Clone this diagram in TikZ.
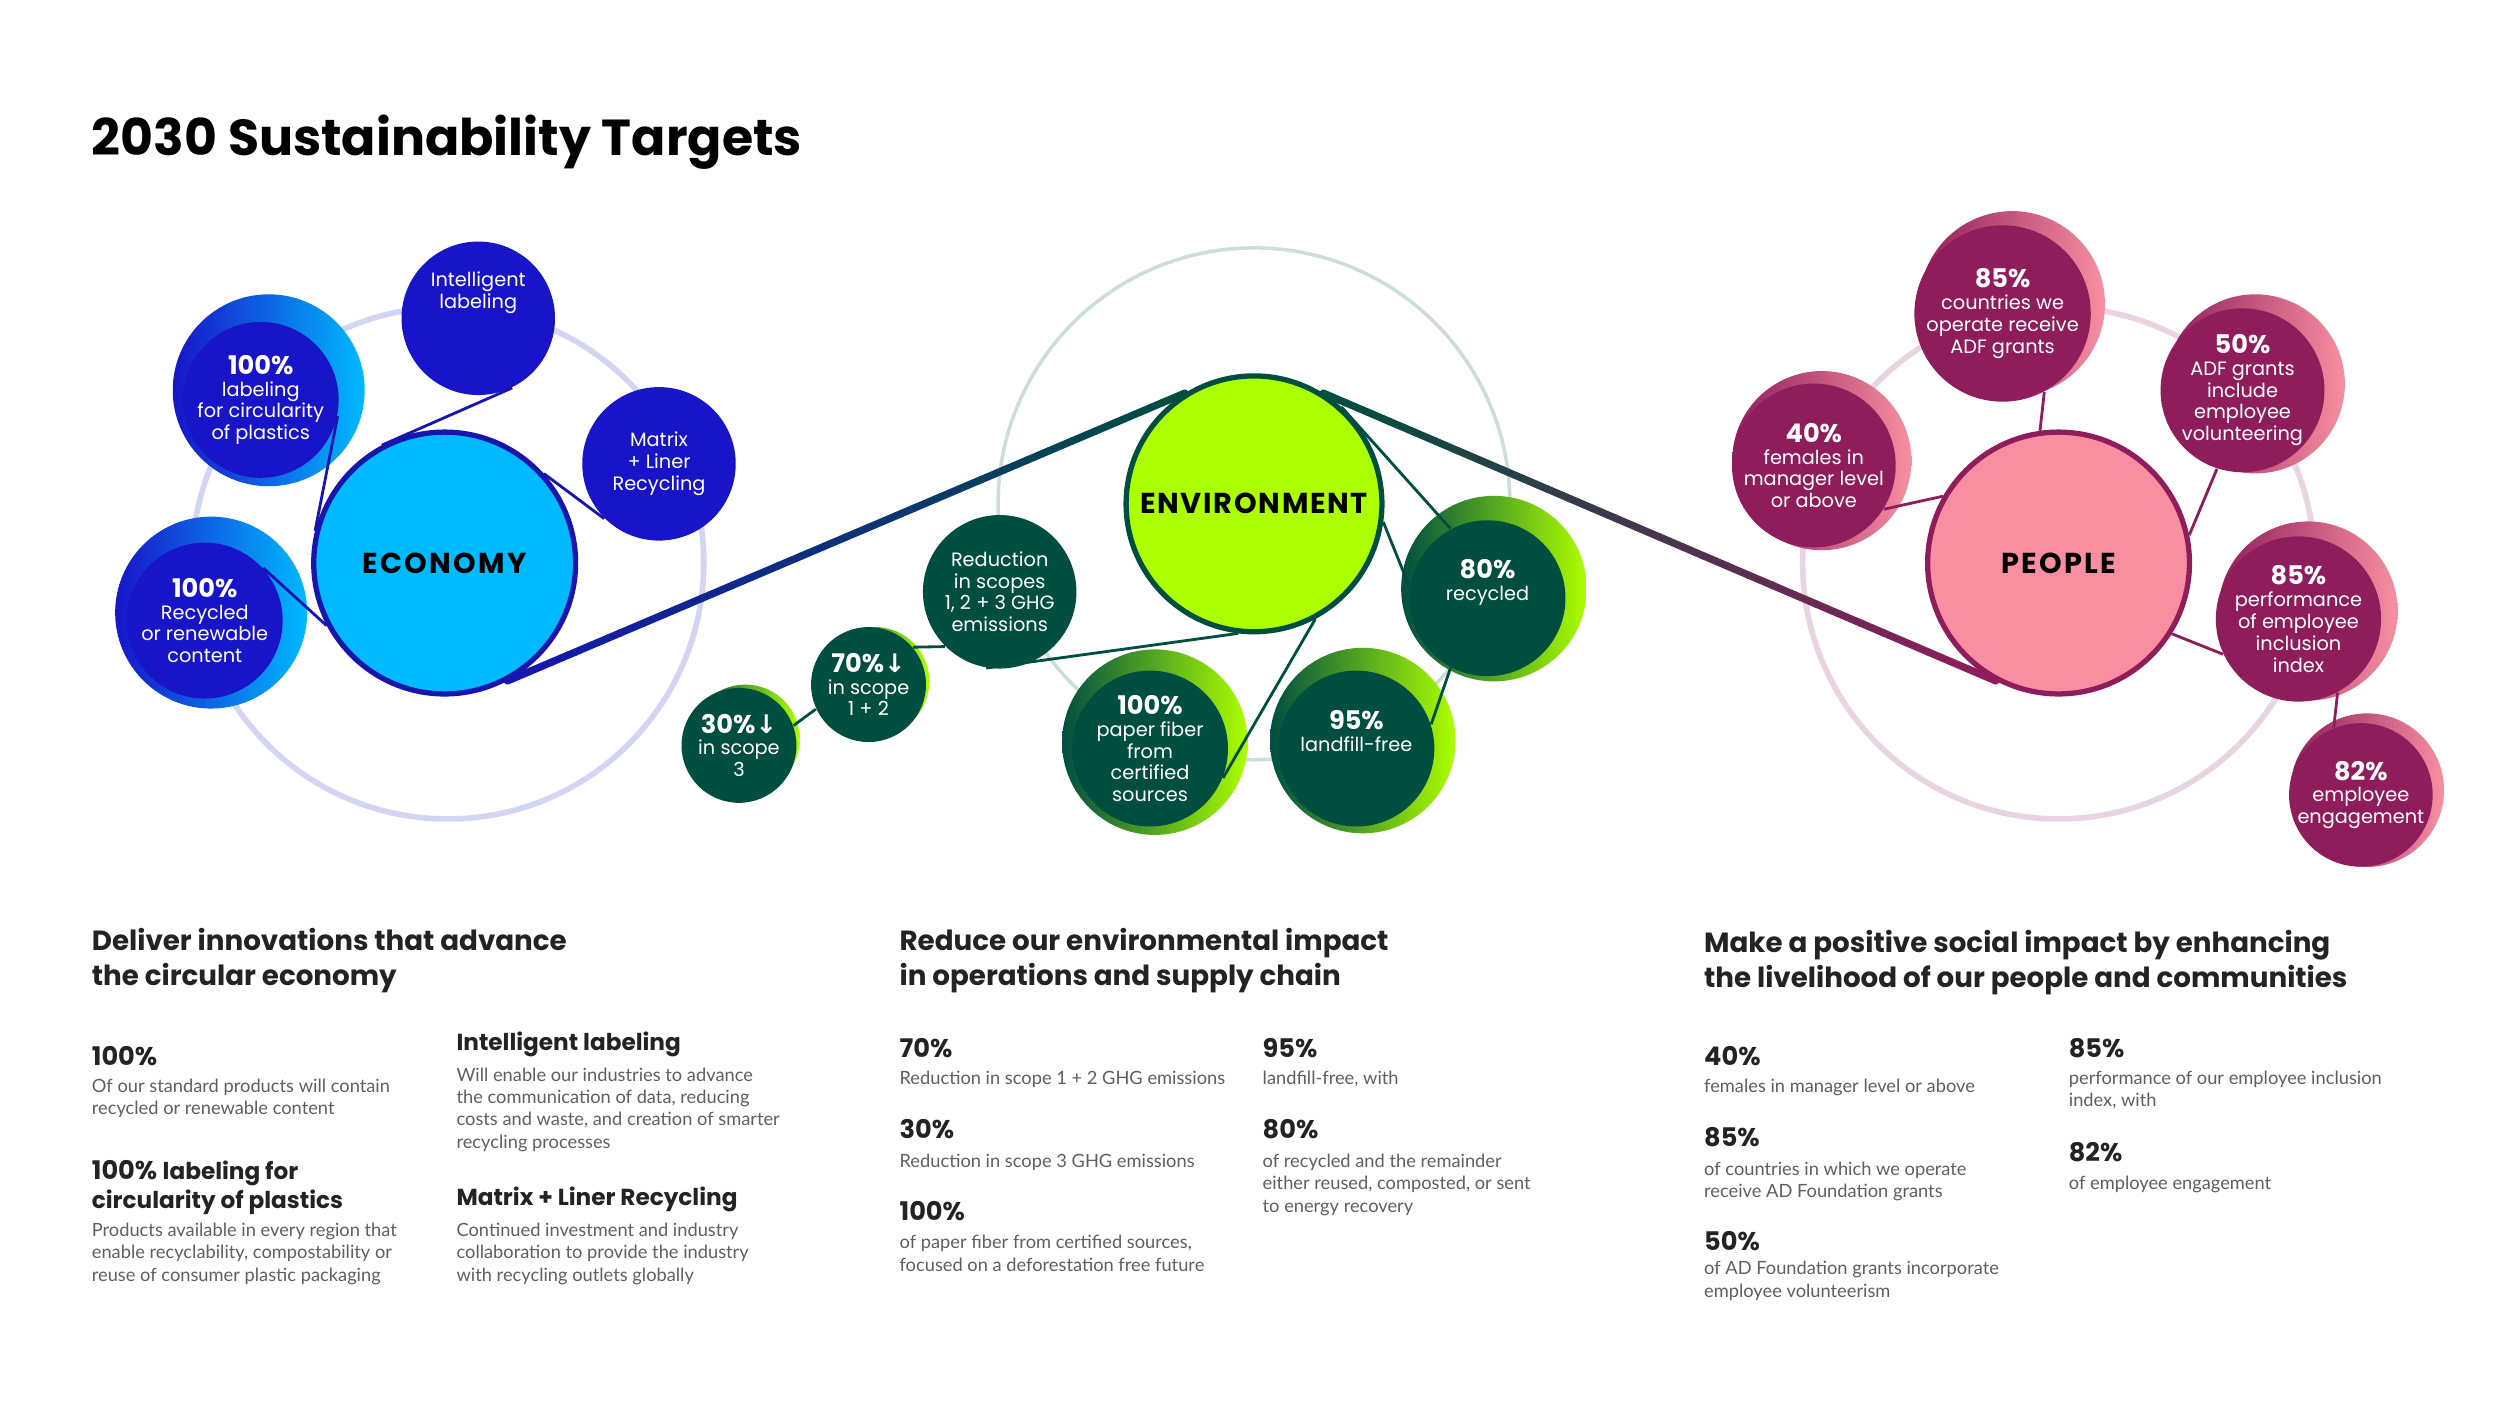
\documentclass[tikz,border=0pt]{standalone}
\usepackage{fontspec}
\setmainfont{Lato}
\newfontfamily\pop{Poppins}
\newfontfamily\dv{DejaVu Sans}
\usetikzlibrary{calc}
\definecolor{ecoD}{RGB}{24,20,200}
\definecolor{ecoC}{RGB}{0,186,255}
\definecolor{ecoB}{RGB}{22,22,175}
\definecolor{ecoRing}{RGB}{212,212,245}
\definecolor{envD}{RGB}{0,78,64}
\definecolor{envL}{RGB}{172,255,0}
\definecolor{envRing}{RGB}{205,222,218}
\definecolor{peoD}{RGB}{143,29,92}
\definecolor{peoL}{RGB}{247,143,160}
\definecolor{peoRing}{RGB}{232,212,226}
\definecolor{bodyT}{RGB}{95,95,95}
\definecolor{headT}{RGB}{35,35,35}
\tikzset{
 bub/.style={circle,inner sep=0pt,align=center,text=white,font=\pop\fontsize{5.5}{6.2}\selectfont},
 hub/.style={circle,inner sep=0pt,line width=1.5pt,font=\pop\fontsize{8.2}{9}\selectfont\bfseries,minimum size=2.62cm},
 thinln/.style={line width=0.8pt},
 ringln/.style={line width=1.6pt},
 body/.style={anchor=north west,inner sep=0pt,align=left,text=bodyT,font=\fontsize{5.2}{6.4}\selectfont},
 big/.style={anchor=west,inner sep=0pt,text=headT,font=\pop\fontsize{7.3}{8.3}\selectfont\bfseries},
 head/.style={anchor=north west,inner sep=0pt,align=left,text=headT,font=\pop\fontsize{7.9}{10}\selectfont\bfseries},
}
\newcommand{\pcttop}[1]{{\pop\fontsize{7.3}{8.2}\selectfont\bfseries #1}\\}
\begin{document}
\begin{tikzpicture}[x=0.016cm,y=-0.016cm]
\useasboundingbox (0,0) rectangle (1563,879);
\fill[white] (0,0) rectangle (1563,879);
\node[anchor=west,inner sep=0pt,font=\pop\fontsize{14.4}{16}\selectfont\bfseries] (title) at (57,89) {2030 Sustainability Targets};
% rings
\draw[ecoRing,ringln] (280,352) circle[radius=160];
\draw[envRing,line width=1pt] (784,315) circle[radius=160];
\draw[peoRing,ringln] (1287,352) circle[radius=160];
% glow discs
\shade[left color=ecoD,right color=ecoC] (168,244) circle[radius=60];
\shade[left color=ecoD,right color=ecoC] (132,383) circle[radius=60];
\shade[left color=envD,right color=envL] (547,426) circle[radius=34];
\shade[left color=envD,right color=envL] (466,462) circle[radius=34];
\shade[left color=envD,right color=envL] (722,464) circle[radius=58];
\shade[left color=envD,right color=envL] (852,463) circle[radius=58];
\shade[left color=envD,right color=envL] (934,368) circle[radius=58];
\shade[left color=peoD,right color=peoL] (1258,190) circle[radius=58];
\shade[left color=peoD,right color=peoL] (1139,288) circle[radius=56];
\shade[left color=peoD,right color=peoL] (1410,240) circle[radius=56];
\shade[left color=peoD,right color=peoL] (1443,382) circle[radius=56];
\shade[left color=peoD,right color=peoL] (1480,494) circle[radius=48];
% hubs
\node[hub,draw=ecoB,fill=ecoC] (econ) at (278,352) {\addfontfeatures{LetterSpace=8}ECONOMY};
\node[hub,draw=envD,fill=envL,minimum size=2.56cm] (env) at (784,315) {\addfontfeatures{LetterSpace=6}ENVIRONMENT};
\node[hub,draw=peoD,fill=peoL] (peo) at (1287,352) {\addfontfeatures{LetterSpace=8}PEOPLE};
% economy bubbles
\node[bub,fill=ecoD,minimum size=1.536cm] (intel) at (299,199) {Intelligent\\labeling\\[10pt]};
\node[bub,fill=ecoD,minimum size=1.536cm] (mat) at (412,290) {Matrix\\+ Liner\\Recycling};
\node[bub,fill=ecoD,minimum size=1.56cm] (lab) at (163,250) {\pcttop{100\%}labeling\\for circularity\\of plastics};
\node[bub,fill=ecoD,minimum size=1.56cm] (rec) at (128,388) {\pcttop{100\%}Recycled\\or renewable\\content};
% environment bubbles
\node[bub,fill=envD,minimum size=1.536cm] (red) at (625,370) {Reduction\\in scopes\\1, 2 + 3 GHG\\emissions};
\node[bub,fill=envD,minimum size=1.15cm] (sev) at (543,428) {\pcttop{70\%{\dv\bfseries↓}}in scope\\1 + 2};
\node[bub,fill=envD,minimum size=1.15cm] (thr) at (462,466) {\pcttop{30\%{\dv\bfseries↓}}in scope\\3};
\node[bub,fill=envD,minimum size=1.56cm] (pap) at (719,468) {\pcttop{100\%}paper fiber\\from\\certified\\sources};
\node[bub,fill=envD,minimum size=1.56cm] (nin) at (848,468) {\pcttop{95\%}landfill-free\\[4pt]};
\node[bub,fill=envD,minimum size=1.56cm] (eig) at (930,374) {\pcttop{80\%}recycled\\[4pt]};
% people bubbles
\node[bub,fill=peoD,minimum size=1.56cm] (pa) at (1252,196) {\pcttop{85\%}countries we\\operate receive\\ADF grants};
\node[bub,fill=peoD,minimum size=1.56cm] (pb) at (1134,291) {\pcttop{40\%}females in\\manager level\\or above};
\node[bub,fill=peoD,minimum size=1.56cm] (pc) at (1402,244) {\pcttop{50\%}ADF grants\\include\\employee\\volunteering};
\node[bub,fill=peoD,minimum size=1.56cm] (pd) at (1437,387) {\pcttop{85\%}performance\\of employee\\inclusion\\index};
\node[bub,fill=peoD,minimum size=1.36cm] (pe) at (1476,497) {\pcttop{82\%}employee\\engagement};
% thin connectors
\draw[ecoB,thinln] (intel.-64) -- (econ.118);
\draw[ecoB,thinln] (mat.-135) -- (econ.42);
\draw[ecoB,thinln] (lab.-12) -- (econ.166);
\draw[ecoB,thinln] (rec.42) -- (econ.208);
\draw[envD,thinln] (red.-100) -- (env.-97);
\draw[envD,thinln] (sev.40) -- (red.-135);
\draw[envD,thinln] (thr.20) -- (sev.205);
\draw[envD,thinln] (env.48) -- (eig.118);
\draw[envD,thinln] (env.-8) -- (eig.172);
\draw[envD,thinln] (eig.-118) -- (nin.18);
\draw[envD,thinln] (env.-62) -- (pap.-22);
\draw[peoD,thinln] (pa.-62) -- (peo.98);
\draw[peoD,thinln] (pb.-32) -- (peo.150);
\draw[peoD,thinln] (pc.-108) -- (peo.12);
\draw[peoD,thinln] (pd.205) -- (peo.-32);
\draw[peoD,thinln] (pd.-62) -- (pe.112);
% gradient main connectors
\coordinate (a1) at (econ.-62); \coordinate (b1) at (env.122);
\coordinate (a2) at (env.58); \coordinate (b2) at (peo.-118);
\foreach \i in {0,...,29}{
 \pgfmathsetmacro\m{100-\i*100/29}
 \draw[line width=2.1pt,line cap=round,color=ecoB!\m!envD] ($(a1)!\i/30!(b1)$) -- ($(a1)!{(\i+1)/30}!(b1)$);
 \draw[line width=2.1pt,line cap=round,color=envD!\m!peoD] ($(a2)!\i/30!(b2)$) -- ($(a2)!{(\i+1)/30}!(b2)$);
}
% ---- text columns
\node[head] (h1) at (57,580) {Deliver innovations that advance\\the circular economy};
\node[big] (e1) at (57,660) {100\%};
\node[body] (e1b) at (57,674) {Of our standard products will contain\\recycled or renewable content};
\node[anchor=north west,inner sep=0pt,align=left,text=headT,font=\pop\fontsize{7.3}{8.3}\selectfont\bfseries] (e2) at (57,725) {100\% {\fontsize{6.6}{8.3}\selectfont labeling for}\\{\fontsize{6.6}{8.3}\selectfont circularity of plastics}};
\node[body] (e2b) at (57,764) {Products available in every region that\\enable recyclability, compostability or\\reuse of consumer plastic packaging};
\node[big,font=\pop\fontsize{6.6}{8}\selectfont\bfseries] (e3) at (285,653) {Intelligent labeling};
\node[body] (e3b) at (285,667) {Will enable our industries to advance\\the communication of data, reducing\\costs and waste, and creation of smarter\\recycling processes};
\node[big,font=\pop\fontsize{6.6}{8}\selectfont\bfseries] (e4) at (285,750) {Matrix + Liner Recycling};
\node[body] (e4b) at (285,764) {Continued investment and industry\\collaboration to provide the industry\\with recycling outlets globally};
\node[head] (h2) at (562,580) {Reduce our environmental impact\\in operations and supply chain};
\node[big] (n1) at (562,655) {70\%};
\node[body] (n1b) at (562,669) {Reduction in scope 1 + 2 GHG emissions};
\node[big] (n2) at (562,706) {30\%};
\node[body] (n2b) at (562,721) {Reduction in scope 3 GHG emissions};
\node[big] (n3) at (562,757) {100\%};
\node[body] (n3b) at (562,772) {of paper fiber from certified sources,\\focused on a deforestation free future};
\node[big] (n4) at (789,655) {95\%};
\node[body] (n4b) at (789,669) {landfill-free, with};
\node[big] (n5) at (789,706) {80\%};
\node[body] (n5b) at (789,721) {of recycled and the remainder\\either reused, composted, or sent\\to energy recovery};
\node[head] (h3) at (1065,581) {Make a positive social impact by enhancing\\the livelihood of our people and communities};
\node[big] (q1) at (1065,660) {40\%};
\node[body] (q1b) at (1065,674) {females in manager level or above};
\node[big] (q2) at (1065,711) {85\%};
\node[body] (q2b) at (1065,726) {of countries in which we operate\\receive AD Foundation grants};
\node[big] (q3) at (1065,776) {50\%};
\node[body] (q3b) at (1065,788) {of AD Foundation grants incorporate\\employee volunteerism};
\node[big] (q4) at (1293,655) {85\%};
\node[body] (q4b) at (1293,669) {performance of our employee inclusion\\index, with};
\node[big] (q5) at (1293,720) {82\%};
\node[body] (q5b) at (1293,735) {of employee engagement};
\end{tikzpicture}
\end{document}
